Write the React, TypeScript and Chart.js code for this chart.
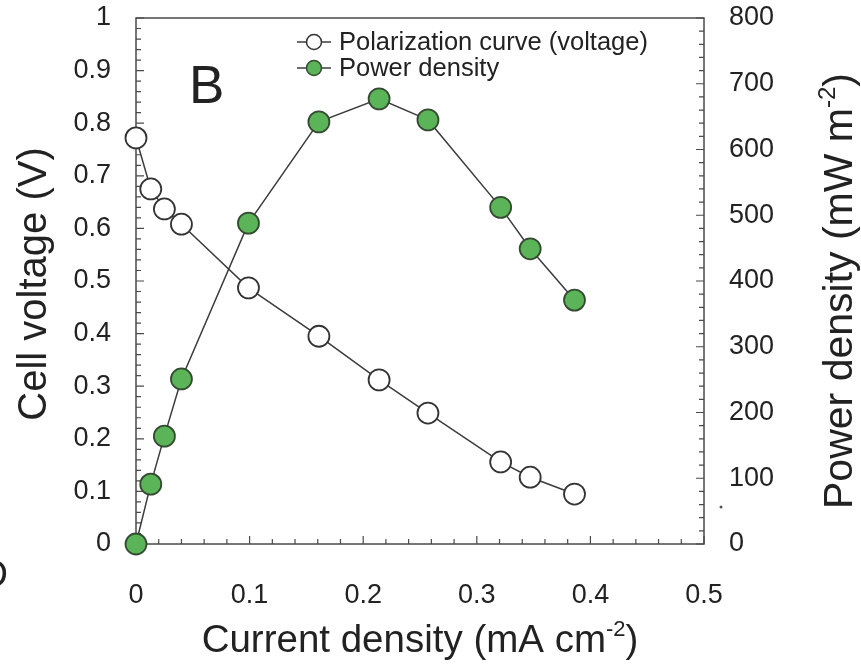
import React, { useEffect, useRef } from "react";
import { Chart, registerables } from "chart.js";

Chart.register(...registerables);

// ---- data ----
const currentDensity = [0, 0.013, 0.025, 0.04, 0.099, 0.161, 0.214, 0.257, 0.321, 0.347, 0.386];
const cellVoltage = [0.772, 0.675, 0.637, 0.608, 0.487, 0.395, 0.312, 0.249, 0.156, 0.127, 0.095];
const powerDensity = [0, 91, 164, 251, 488, 642, 677, 645, 512, 449, 371];

const xTickValues = [0, 0.1, 0.2, 0.3, 0.4, 0.5];
const voltageTickValues = [0, 0.1, 0.2, 0.3, 0.4, 0.5, 0.6, 0.7, 0.8, 0.9, 1];
const powerTickValues = [0, 100, 200, 300, 400, 500, 600, 700, 800];

const seriesNames = ["Polarization curve (voltage)", "Power density"];
const panelLabel = "B";
const xTitle = ["Current density (mA cm", "-2", ")"];
const yTitle = "Cell voltage (V)";
const y1Title = ["Power density (mW m", "-2", ")"];

const FONT = '"Liberation Sans", Arial, Helvetica, sans-serif';
const TEXT = "#222";
const LINE = "#3c3c3c";
const GREEN = "#5cb458";
const GREEN_EDGE = "#344a33";

function drawSupText(ctx: CanvasRenderingContext2D, parts: string[], cx: number, cy: number, size: number) {
  const big = `${size}px ${FONT}`;
  const small = `${Math.round(size * 0.58)}px ${FONT}`;
  ctx.font = big;
  const w0 = ctx.measureText(parts[0]).width;
  const w2 = ctx.measureText(parts[2]).width;
  ctx.font = small;
  const w1 = ctx.measureText(parts[1]).width;
  const total = w0 + w1 + w2;
  let x = cx - total / 2;
  ctx.textAlign = "left";
  ctx.textBaseline = "alphabetic";
  ctx.font = big;
  ctx.fillText(parts[0], x, cy);
  x += w0;
  ctx.font = small;
  ctx.fillText(parts[1], x, cy - size * 0.42);
  x += w1;
  ctx.font = big;
  ctx.fillText(parts[2], x, cy);
}

const zeroPad = (s: any) => {
  s.paddingTop = 0;
  s.paddingBottom = 0;
  s.paddingLeft = 0;
  s.paddingRight = 0;
};

const decor = {
  id: "decor",
  beforeDatasetsDraw(chart: any) {
    const { ctx, chartArea: a, scales } = chart;
    ctx.save();
    ctx.strokeStyle = "#4a4a4a";
    ctx.lineWidth = 1.5;
    ctx.strokeRect(a.left, a.top, a.right - a.left, a.bottom - a.top);
    ctx.lineWidth = 1.2;
    ctx.beginPath();
    for (let i = 0; i <= 25; i++) {
      const px = scales.x.getPixelForValue(i * 0.02);
      const len = i % 5 === 0 ? 8 : 5;
      ctx.moveTo(px, a.bottom);
      ctx.lineTo(px, a.bottom - len);
    }
    for (let i = 0; i <= 50; i++) {
      const py = scales.y.getPixelForValue(i * 0.02);
      const len = i % 5 === 0 ? 8 : 5;
      ctx.moveTo(a.left, py);
      ctx.lineTo(a.left + len, py);
    }
    for (let i = 0; i <= 40; i++) {
      const py = scales.y1.getPixelForValue(i * 20);
      const len = i % 5 === 0 ? 8 : 5;
      ctx.moveTo(a.right, py);
      ctx.lineTo(a.right - len, py);
    }
    ctx.stroke();
    ctx.restore();
  },
  afterDraw(chart: any) {
    const { ctx } = chart;
    ctx.save();
    ctx.fillStyle = TEXT;

    // legend
    const rows = [
      { y: 42, fill: "#ffffff" },
      { y: 68, fill: GREEN },
    ];
    rows.forEach((r, i) => {
      ctx.strokeStyle = LINE;
      ctx.lineWidth = 1.5;
      ctx.beginPath();
      ctx.moveTo(297, r.y);
      ctx.lineTo(331, r.y);
      ctx.stroke();
      ctx.beginPath();
      ctx.arc(314, r.y, 7.5, 0, Math.PI * 2);
      ctx.fillStyle = r.fill;
      ctx.fill();
      ctx.strokeStyle = i === 0 ? "#333" : GREEN_EDGE;
      ctx.stroke();
      ctx.fillStyle = TEXT;
      ctx.font = `25.5px ${FONT}`;
      ctx.textAlign = "left";
      ctx.textBaseline = "middle";
      ctx.fillText(seriesNames[i], 339, r.y + 1);
    });

    // panel label
    ctx.font = `53px ${FONT}`;
    ctx.textAlign = "left";
    ctx.textBaseline = "alphabetic";
    ctx.fillText(panelLabel, 189, 103);

    // x title
    drawSupText(ctx, xTitle, 420, 652, 38.5);

    // left title
    ctx.save();
    ctx.translate(46, 284);
    ctx.rotate(-Math.PI / 2);
    ctx.font = `40px ${FONT}`;
    ctx.textAlign = "center";
    ctx.textBaseline = "alphabetic";
    ctx.fillText(yTitle, 0, 0);
    ctx.restore();

    // right title
    ctx.save();
    ctx.translate(852, 291);
    ctx.rotate(-Math.PI / 2);
    drawSupText(ctx, y1Title, 0, 0, 41);
    ctx.restore();

    // stray marks of the cropped figure
    ctx.font = `38px ${FONT}`;
    ctx.textAlign = "right";
    ctx.textBaseline = "alphabetic";
    ctx.fillText("D", 8, 587);
    ctx.fillStyle = "#555";
    ctx.beginPath();
    ctx.arc(721, 507, 1.5, 0, Math.PI * 2);
    ctx.fill();
    ctx.restore();
  },
};

const fmt = (v: any) => {
  const n = Number(v);
  return String(Math.round(n * 10) / 10);
};

export default function App() {
  const ref = useRef<HTMLCanvasElement | null>(null);
  useEffect(() => {
    if (!ref.current) return;
    const chart = new Chart(ref.current, {
      type: "line",
      data: {
        datasets: [
          {
            label: seriesNames[1],
            data: currentDensity.map((x, i) => ({ x, y: powerDensity[i] })),
            yAxisID: "y1",
            borderColor: LINE,
            borderWidth: 1.5,
            pointRadius: 10.5,
            pointBorderWidth: 1.8,
            pointBackgroundColor: GREEN,
            pointBorderColor: GREEN_EDGE,
            tension: 0,
            clip: false as any,
          },
          {
            label: seriesNames[0],
            data: currentDensity.map((x, i) => ({ x, y: cellVoltage[i] })),
            yAxisID: "y",
            borderColor: LINE,
            borderWidth: 1.5,
            pointRadius: 10.5,
            pointBorderWidth: 1.8,
            pointBackgroundColor: "#ffffff",
            pointBorderColor: "#333",
            tension: 0,
            clip: false as any,
          },
        ],
      },
      options: {
        animation: false,
        responsive: false,
        layout: { padding: { top: 18, left: 0, right: 0, bottom: 0 } },
        plugins: { legend: { display: false }, tooltip: { enabled: false } },
        scales: {
          x: {
            type: "linear",
            min: 0,
            max: 0.5,
            afterBuildTicks: (s: any) => {
              s.ticks = xTickValues.map((value) => ({ value }));
            },
            afterFit: (s: any) => {
              s.height = 121;
              zeroPad(s);
            },
            grid: { display: false },
            border: { display: false },
            ticks: { padding: 27, color: TEXT, font: { family: FONT, size: 27 }, callback: fmt, maxRotation: 0 },
          },
          y: {
            type: "linear",
            position: "left",
            min: 0,
            max: 1,
            afterBuildTicks: (s: any) => {
              s.ticks = voltageTickValues.map((value) => ({ value }));
            },
            afterFit: (s: any) => {
              s.width = 136;
              zeroPad(s);
            },
            grid: { display: false },
            border: { display: false },
            ticks: { padding: 17, color: TEXT, font: { family: FONT, size: 27 }, callback: fmt },
          },
          y1: {
            type: "linear",
            position: "right",
            min: 0,
            max: 800,
            afterBuildTicks: (s: any) => {
              s.ticks = powerTickValues.map((value) => ({ value }));
            },
            afterFit: (s: any) => {
              s.width = 157;
              zeroPad(s);
            },
            grid: { display: false },
            border: { display: false },
            ticks: { padding: 17, color: TEXT, font: { family: FONT, size: 27 } },
          },
        },
      },
      plugins: [decor],
    });
    return () => chart.destroy();
  }, []);
  return (
    <div style={{ position: "fixed", left: 0, top: 0, width: 861, height: 665, background: "#fff" }}>
      <canvas ref={ref} width={861} height={665} style={{ display: "block" }} />
    </div>
  );
}
